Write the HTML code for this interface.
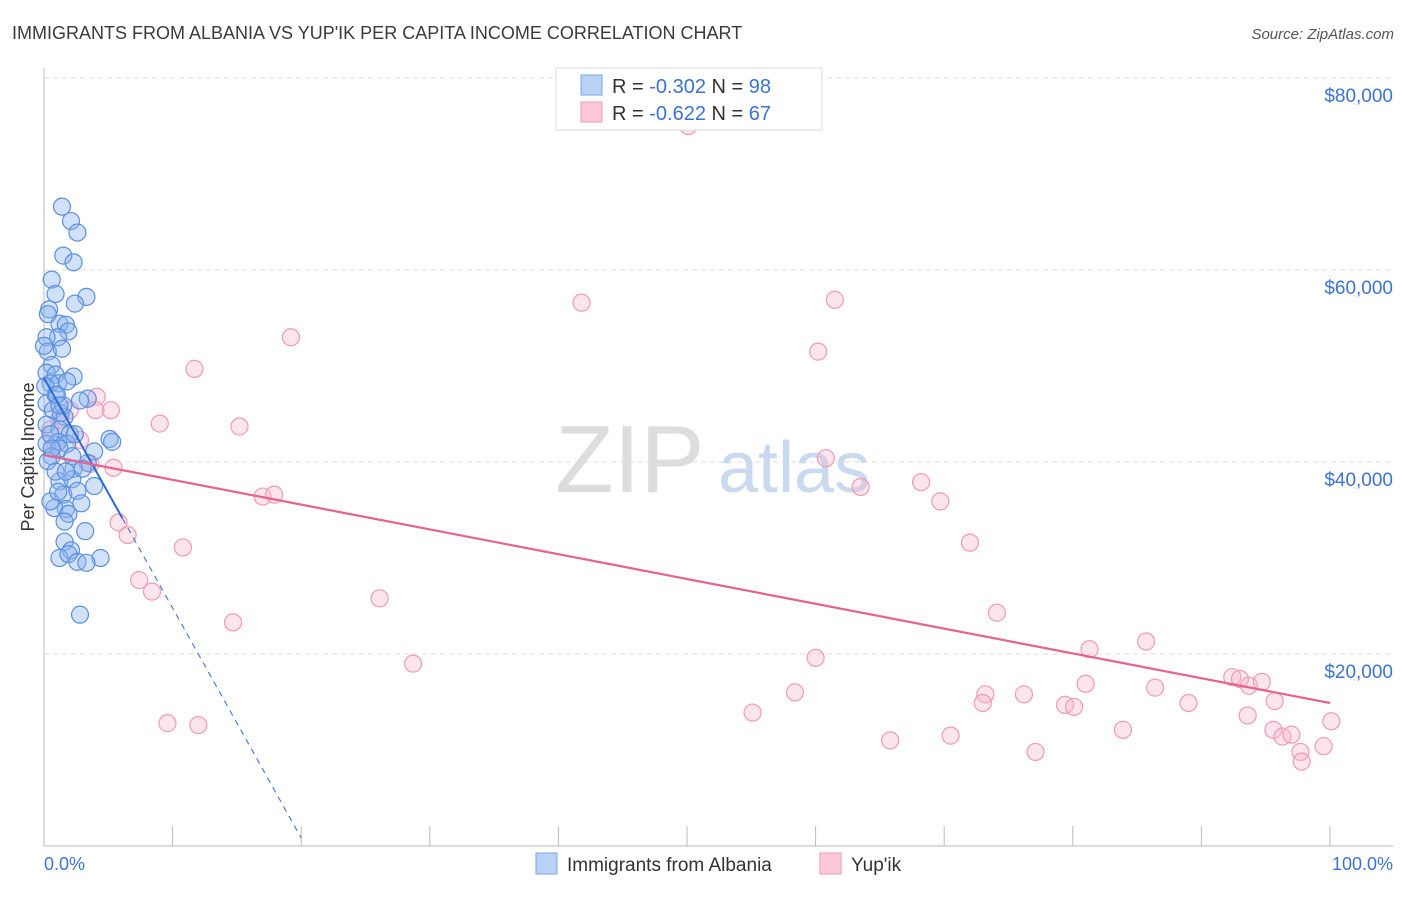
<!DOCTYPE html>
<html><head><meta charset="utf-8"><style>
body{margin:0;background:#fff;font-family:"Liberation Sans",sans-serif}
svg text{font-family:"Liberation Sans",sans-serif}
</style></head><body>
<svg id="c" width="1406" height="892">
<text x="12" y="39" font-size="18" fill="#3a3a3a">IMMIGRANTS FROM ALBANIA VS YUP'IK PER CAPITA INCOME CORRELATION CHART</text>
<text x="1394" y="39" font-size="15" fill="#555" font-style="italic" text-anchor="end">Source: ZipAtlas.com</text>
<g id="grid"></g>
<text x="555" y="492" font-size="96" fill="#ddd" font-family="Liberation Serif">ZIP</text>
<text x="718" y="492" font-size="72" fill="#c9daf0">atlas</text>
<line x1="44" y1="68" x2="44" y2="846" stroke="#bbb"/>
<line x1="44" y1="846" x2="1393" y2="846" stroke="#bbb"/>
<g id="ticks"></g>
<g id="ylabels"></g>
<text x="34" y="457" font-size="18" fill="#333" transform="rotate(-90 34 457)" text-anchor="middle">Per Capita Income</text>
<text x="44" y="870" font-size="18" fill="#3b73d4">0.0%</text>
<text x="1393" y="870" font-size="18" fill="#3b73d4" text-anchor="end">100.0%</text>
<g id="pink"></g>
<g id="blue"></g>
<g id="trends"></g>
<g>
<rect x="556" y="68" width="266" height="62" fill="#fff" stroke="#ddd"/>
<rect x="581" y="75" width="21" height="20" fill="#b9d1f5" stroke="#7aa6e8"/>
<rect x="581" y="102" width="21" height="20" fill="#fcc9d8" stroke="#f19ab5"/>
<text x="612" y="93" font-size="20" fill="#333">R = <tspan fill="#3b73d4">-0.302</tspan>   N = <tspan fill="#3b73d4">98</tspan></text>
<text x="612" y="120" font-size="20" fill="#333">R = <tspan fill="#3b73d4"> -0.622</tspan>   N = <tspan fill="#3b73d4">67</tspan></text>
</g>
<g>
<rect x="536" y="853" width="21" height="21" fill="#b9d1f5" stroke="#7aa6e8"/>
<text x="567" y="871" font-size="19" fill="#333">Immigrants from Albania</text>
<rect x="820" y="853" width="21" height="21" fill="#fcc9d8" stroke="#f19ab5"/>
<text x="851" y="871" font-size="19" fill="#333">Yup'ik</text>
</g>
</svg>
<script>
const yTicks=[20000,40000,60000,80000];
const yTickLabels=["$20,000","$40,000","$60,000","$80,000"];
const xTicks=[0,10,20,30,40,50,60,70,80,90,100];
const blueX=[1.4,2.1,2.6,1.5,2.3,0.6,0.9,3.3,2.4,0.4,1.2,1.7,1.9,1.1,0.2,0.3,1.4,0.6,0.2,0.9,2.3,1.1,0.5,1.8,3.4,2.8,0.2,0.7,1.3,1.6,0.2,1.2,2.0,1.1,1.8,5.1,5.3,0.2,1.2,3.9,2.2,0.6,3.4,2.3,1.2,2.2,3.9,1.5,2.6,1.7,2.9,0.8,1.9,1.6,3.2,1.6,2.1,4.4,1.2,1.9,2.6,3.3,2.8,0.3,0.5,0.9,0.9,1.5,0.1,0.0,0.3,1.0,2.4,1.7,3.0,0.5,1.1,0.6,1.2];
const blueY=[66600,65100,63900,61500,60800,59000,57500,57200,56500,55900,54400,54300,53600,53000,53000,51500,51800,50100,49300,49100,48900,48200,48200,48400,46600,46400,46100,45400,45100,44700,43900,43400,42900,42100,41900,42400,42100,41900,41400,41100,40600,40600,39900,39300,38000,38200,37500,36600,37000,35100,35700,35200,34600,33800,32800,31700,30800,30000,30000,30400,29600,29500,24100,40100,42900,39000,47000,45900,47900,52100,55400,47000,42900,39000,39300,35900,36900,41400,45900];
const pinkX=[50.1,41.8,61.5,19.2,60.2,11.7,4.1,5.2,4.0,9.0,15.2,3.6,5.4,60.8,63.5,68.2,69.7,17.0,17.9,5.8,6.5,10.8,72.0,7.4,8.4,26.1,74.1,14.7,85.7,81.3,60.0,28.7,81.0,86.4,73.2,76.2,58.4,73.0,79.4,80.1,89.0,92.4,93.0,93.7,94.7,95.7,55.1,9.6,12.0,83.9,93.6,100.1,65.8,70.5,77.1,95.6,96.3,97.0,97.7,97.8,99.5,2.0,1.2,0.5,2.8,0.9];
const pinkY=[75000,56600,56900,53000,51500,49700,46800,45400,45400,44000,43700,39800,39400,40400,37400,37900,35900,36400,36600,33700,32400,31100,31600,27700,26500,25800,24300,23300,21300,20500,19600,19000,16900,16500,15800,15800,16000,14900,14700,14500,14900,17600,17400,16700,17100,15100,13900,12800,12600,12100,13600,13000,11000,11500,9800,12100,11400,11600,9800,8800,10400,45400,44400,43400,42300,41800];
const blueTrend=[48750,833];
const pinkTrend=[40729,14896];
const X=p=>44+p*12.86, Y=v=>846-v/104.17;
const NS="http://www.w3.org/2000/svg";
function mk(parent,tag,attrs){const e=document.createElementNS(NS,tag);for(const k in attrs)e.setAttribute(k,attrs[k]);document.getElementById(parent).appendChild(e);return e;}
yTicks.forEach((v,i)=>{
 const l=mk('grid','line',{x1:44,x2:1393,y1:Y(v),y2:Y(v),stroke:'#ddd','stroke-dasharray':'5,4'});
 
 
 const t=mk('ylabels','text',{x:1393,y:Y(v)+24,'font-size':19,fill:'#3b73d4','text-anchor':'end'});
 t.textContent=yTickLabels[i];
 
 
});
{const l=mk('grid','line',{x1:44,x2:1393,y1:78,y2:78,stroke:'#ddd','stroke-dasharray':'5,4'});
 
 }
xTicks.forEach(p=>{
 const l=mk('ticks','line',{x1:X(p),x2:X(p),y1:826,y2:846,stroke:'#bbb'});
 
 
});
pinkX.forEach((p,i)=>{
 const c=mk('pink','circle',{cx:X(p),cy:Y(pinkY[i]),r:8.5,fill:'rgba(248,180,202,0.35)',stroke:'#f19ab5','stroke-width':1.2});
 
 
});
blueX.forEach((p,i)=>{
 const c=mk('blue','circle',{cx:X(p),cy:Y(blueY[i]),r:8.5,fill:'rgba(140,180,240,0.4)',stroke:'#5b8fe0','stroke-width':1.2});
 
 
});
const bAt=p=>blueTrend[0]+(blueTrend[1]-blueTrend[0])*p/20;
let t1=mk('trends','line',{x1:X(0),y1:Y(bAt(0)),x2:X(6.1),y2:Y(bAt(6.1)),stroke:'#2a6bd6','stroke-width':2});


let t2=mk('trends','line',{x1:X(6.1),y1:Y(bAt(6.1)),x2:X(20),y2:Y(bAt(20)),stroke:'#2a6bd6','stroke-width':1,'stroke-dasharray':'6,5'});


let t3=mk('trends','line',{x1:X(0),y1:Y(pinkTrend[0]),x2:X(100),y2:Y(pinkTrend[1]),stroke:'#e8628f','stroke-width':2.2});


</script>
</body></html>
